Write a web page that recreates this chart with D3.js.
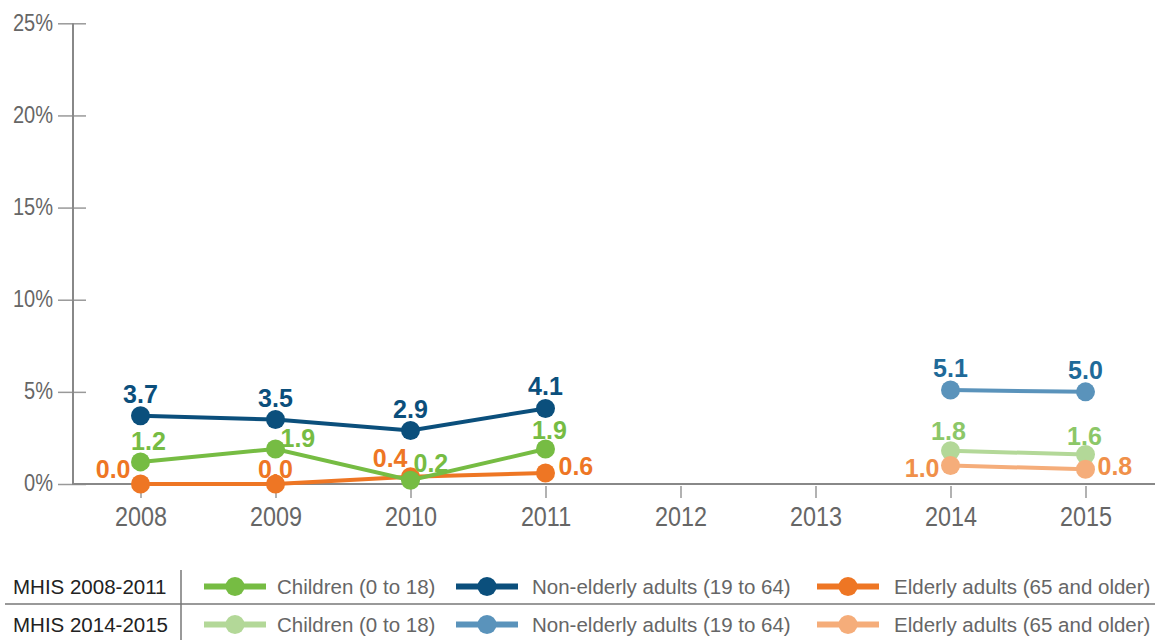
<!DOCTYPE html>
<html>
<head>
<meta charset="utf-8">
<script src="https://cdn.jsdelivr.net/npm/d3@7"></script>
<style>
  html, body { margin: 0; padding: 0; background: #fff; }
  svg { display: block; }
  .sans { font-family: "Liberation Sans", Arial, sans-serif; }
</style>
</head>
<body>
<svg id="chart" width="1155" height="640"></svg>
<script>
// ---- data ----
const years = ["2008", "2009", "2010", "2011", "2012", "2013", "2014", "2015"];
const yTicks = [0, 5, 10, 15, 20, 25];

const yearsEarly = ["2008", "2009", "2010", "2011"];
const childrenEarly = [1.2, 1.9, 0.2, 1.9];
const nonElderlyEarly = [3.7, 3.5, 2.9, 4.1];
const elderlyEarly = [0.0, 0.0, 0.4, 0.6];

const yearsLate = ["2014", "2015"];
const childrenLate = [1.8, 1.6];
const nonElderlyLate = [5.1, 5.0];
const elderlyLate = [1.0, 0.8];

const surveyLabels = ["MHIS 2008-2011", "MHIS 2014-2015"];
const groupNames = ["Children (0 to 18)", "Non-elderly adults (19 to 64)", "Elderly adults (65 and older)"];

// ---- styling / label placement ----
const colors = {
  early: ["#76bc43", "#0b4f7c", "#ee7624"],
  late:  ["#b3d898", "#5a93bb", "#f5ad7a"]
};
const labelColors = {
  early: ["#76bc43", "#0b4f7c", "#ee7624"],
  late:  ["#8cc768", "#1f6a99", "#f0904a"]
};
// value label offsets relative to each point: [dx, dy, anchor]
const labelPlace = {
  childrenEarly:   [[8, -12, "middle"], [5, -2, "start"], [3, -8, "start"], [4, -10, "middle"]],
  nonElderlyEarly: [[0, -13, "middle"], [0, -13, "middle"], [0, -13, "middle"], [0, -13, "middle"]],
  elderlyEarly:    [[-10, -6, "end"], [0, -6, "middle"], [-3, -10, "end"], [13, 2, "start"]],
  childrenLate:    [[-2, -11, "middle"], [-1, -10, "middle"]],
  nonElderlyLate:  [[0, -13, "middle"], [0, -13, "middle"]],
  elderlyLate:     [[-11, 11, "end"], [12, 6, "start"]]
};

const svg = d3.select("#chart");

const x = d3.scalePoint().domain(years).range([73, 1153]).padding(0.5);
const y = d3.scaleLinear().domain([0, 25]).range([484, 23.3]);

// ---- y axis (condensed labels) ----
const yAxis = svg.append("g")
  .attr("transform", "translate(73,0)")
  .call(d3.axisLeft(y).tickValues(yTicks).tickFormat(d => d + "%").tickSize(15).tickPadding(5));
yAxis.select(".domain").remove();
yAxis.selectAll(".tick line").attr("x1", 13).attr("stroke", "#999").attr("stroke-width", 1.5);
yAxis.selectAll(".tick text")
  .attr("class", "sans")
  .attr("x", 0).attr("dy", "0.3em")
  .attr("transform", "translate(-20,0) scale(0.87,1)")
  .style("font-size", "23px")
  .attr("fill", "#666");
svg.append("line")
  .attr("x1", 73).attr("x2", 73)
  .attr("y1", y(25)).attr("y2", y(0))
  .attr("stroke", "#888").attr("stroke-width", 2);

// ---- x axis (condensed labels) ----
const xAxis = svg.append("g")
  .attr("transform", "translate(0,484)")
  .call(d3.axisBottom(x).tickSize(14));
xAxis.select(".domain").remove();
xAxis.selectAll(".tick line").attr("y1", 2).attr("stroke", "#999").attr("stroke-width", 1.5);
xAxis.selectAll(".tick text")
  .attr("class", "sans")
  .attr("y", 0).attr("dy", 0)
  .attr("transform", "translate(0,42) scale(0.835,1)")
  .style("font-size", "28px")
  .attr("fill", "#666");
svg.append("line")
  .attr("x1", 72).attr("x2", 1155)
  .attr("y1", y(0)).attr("y2", y(0))
  .attr("stroke", "#888").attr("stroke-width", 2);

// ---- series ----
const line = d3.line().x(d => x(d.year)).y(d => y(d.value));

function drawSeries(yrs, values, color, labelColor, place) {
  const pts = yrs.map((yr, i) => ({ year: yr, value: values[i] }));
  const g = svg.append("g");
  g.append("path")
    .datum(pts)
    .attr("d", line)
    .attr("fill", "none")
    .attr("stroke", color)
    .attr("stroke-width", 4);
  g.selectAll("circle").data(pts).join("circle")
    .attr("cx", d => x(d.year))
    .attr("cy", d => y(d.value))
    .attr("r", 9.5)
    .attr("fill", color);
  return { pts, labelColor, place };
}

function drawLabels(s) {
  svg.append("g").selectAll("text").data(s.pts).join("text")
    .attr("class", "sans")
    .attr("x", (d, i) => x(d.year) + s.place[i][0])
    .attr("y", (d, i) => y(d.value) + s.place[i][1])
    .attr("text-anchor", (d, i) => s.place[i][2])
    .style("font-size", "25px")
    .style("font-weight", "bold")
    .attr("fill", s.labelColor)
    .text(d => d.value.toFixed(1));
}

const series = [
  drawSeries(yearsEarly, elderlyEarly, colors.early[2], labelColors.early[2], labelPlace.elderlyEarly),
  drawSeries(yearsEarly, nonElderlyEarly, colors.early[1], labelColors.early[1], labelPlace.nonElderlyEarly),
  drawSeries(yearsEarly, childrenEarly, colors.early[0], labelColors.early[0], labelPlace.childrenEarly),
  drawSeries(yearsLate, nonElderlyLate, colors.late[1], labelColors.late[1], labelPlace.nonElderlyLate),
  drawSeries(yearsLate, childrenLate, colors.late[0], labelColors.late[0], labelPlace.childrenLate),
  drawSeries(yearsLate, elderlyLate, colors.late[2], labelColors.late[2], labelPlace.elderlyLate)
];
series.forEach(drawLabels);

// ---- legend ----
const legendRowsY = [586.5, 624.5];
const itemLineX = [204, 456, 817];
const itemTextX = [277, 532, 894];
const itemLineLen = 62;

svg.append("line")
  .attr("x1", 5).attr("x2", 1155).attr("y1", 604).attr("y2", 604)
  .attr("stroke", "#777").attr("stroke-width", 1.5);
svg.append("line")
  .attr("x1", 181).attr("x2", 181).attr("y1", 570).attr("y2", 640)
  .attr("stroke", "#777").attr("stroke-width", 1.5);

surveyLabels.forEach((lab, r) => {
  const rowY = legendRowsY[r];
  const palette = r === 0 ? colors.early : colors.late;
  svg.append("text")
    .attr("class", "sans")
    .attr("x", 13).attr("y", rowY + 7.5)
    .style("font-size", "20.5px")
    .attr("fill", "#222")
    .text(lab);
  groupNames.forEach((name, k) => {
    const lx = itemLineX[k];
    svg.append("line")
      .attr("x1", lx).attr("x2", lx + itemLineLen)
      .attr("y1", rowY).attr("y2", rowY)
      .attr("stroke", palette[k]).attr("stroke-width", 6);
    svg.append("circle")
      .attr("cx", lx + itemLineLen / 2).attr("cy", rowY)
      .attr("r", 9.5).attr("fill", palette[k]);
    svg.append("text")
      .attr("class", "sans")
      .attr("x", itemTextX[k]).attr("y", rowY + 7.5)
      .style("font-size", "20.5px")
      .attr("fill", "#666")
      .text(name);
  });
});
</script>
</body>
</html>
